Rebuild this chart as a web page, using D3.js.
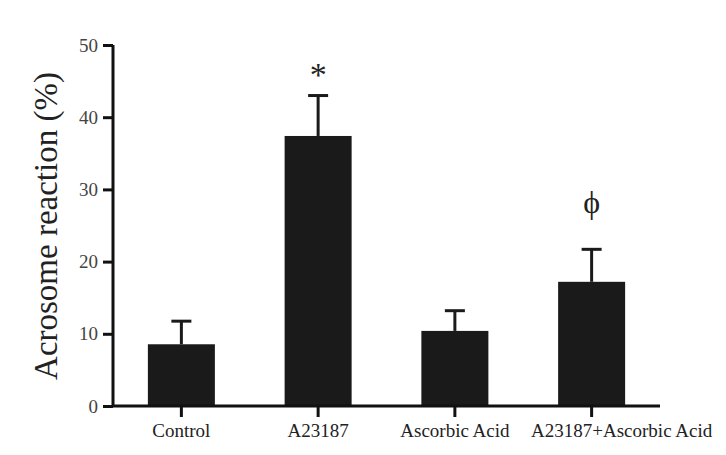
<!DOCTYPE html>
<html>
<head>
<meta charset="utf-8">
<script src="https://cdn.jsdelivr.net/npm/d3@7"></script>
<style>
  body { margin: 0; background: #fff; }
</style>
</head>
<body>
<script>
// datos
var grupos = ["Control", "A23187", "Ascorbic Acid", "A23187+Ascorbic Acid"];
var medias = [8.55, 37.4, 10.4, 17.2];
var errores = [3.2, 5.6, 2.8, 4.5];
var marcas = ["", "*", "", "ϕ"];
var ticksY = [0, 10, 20, 30, 40, 50];

var fuente = "'Liberation Serif', 'Times New Roman', serif";
var w = 726, h = 455;
var margin = { top: 45, bottom: 49, left: 113, right: 66 };

var svg = d3.select("body")
    .append("svg")
    .attr("width", w)
    .attr("height", h);

var x = d3.scaleBand()
    .domain(grupos)
    .range([margin.left, w - margin.right])
    .paddingInner(0.51)
    .paddingOuter(0.255);

var y = d3.scaleLinear()
    .domain([0, 50])
    .range([h - margin.bottom, margin.top]);

// barras
svg.selectAll("rect.barra")
    .data(grupos)
    .enter()
    .append("rect")
    .attr("class", "barra")
    .attr("x", function (d) { return x(d); })
    .attr("width", x.bandwidth())
    .attr("y", function (d, i) { return y(medias[i]); })
    .attr("height", function (d, i) { return y(0) - y(medias[i]); })
    .attr("fill", "#1a1a1a");

// barras de error (solo hacia arriba)
var cx = function (d) { return x(d) + x.bandwidth() / 2; };
svg.selectAll("line.err")
    .data(grupos)
    .enter()
    .append("line")
    .attr("x1", cx).attr("x2", cx)
    .attr("y1", function (d, i) { return y(medias[i]); })
    .attr("y2", function (d, i) { return y(medias[i] + errores[i]); })
    .attr("stroke", "#1a1a1a")
    .attr("stroke-width", 3);

svg.selectAll("line.cap")
    .data(grupos)
    .enter()
    .append("line")
    .attr("x1", function (d) { return cx(d) - 10; })
    .attr("x2", function (d) { return cx(d) + 10; })
    .attr("y1", function (d, i) { return y(medias[i] + errores[i]); })
    .attr("y2", function (d, i) { return y(medias[i] + errores[i]); })
    .attr("stroke", "#1a1a1a")
    .attr("stroke-width", 3);

// marcas de significancia
svg.selectAll("text.marca")
    .data(grupos)
    .enter()
    .append("text")
    .attr("x", cx)
    .attr("y", function (d, i) { return y(medias[i] + errores[i]) - (i == 1 ? 10 : 36); })
    .attr("text-anchor", "middle")
    .style("font-family", fuente)
    .style("font-size", function (d, i) { return i == 1 ? "34px" : "32px"; })
    .attr("fill", "#222")
    .text(function (d, i) { return marcas[i]; });

// ejes
var ejeY = d3.axisLeft(y).tickValues(ticksY).tickSize(10).tickPadding(5);
var gY = svg.append("g")
    .attr("transform", "translate(" + margin.left + ",0)")
    .call(ejeY);

var ejeX = d3.axisBottom(x).tickSize(11).tickPadding(7);
var gX = svg.append("g")
    .attr("transform", "translate(0," + y(0) + ")")
    .call(ejeX);

[gY, gX].forEach(function (g) {
    g.attr("font-family", fuente);
    g.select(".domain").attr("stroke", "#111").attr("stroke-width", 3);
    g.selectAll(".tick line").attr("stroke", "#111").attr("stroke-width", 3);
});
gY.select(".domain").attr("d", "M0," + y(50) + "V" + y(0));
gX.select(".domain").attr("d", "M" + margin.left + ",0H" + (w - margin.right));

gY.selectAll("text")
    .style("font-family", fuente)
    .style("font-size", "19px")
    .attr("fill", "#444");
gX.selectAll("text")
    .style("font-family", fuente)
    .style("font-size", "19px")
    .attr("fill", "#222");
// la ultima etiqueta esta desplazada a la derecha en el original
gX.selectAll(".tick text")
    .attr("dx", function (d, i) { return i == 3 ? 30 : 0; });

// titulo eje Y
svg.append("text")
    .attr("transform", "translate(57," + 226 + ") rotate(-90)")
    .attr("text-anchor", "middle")
    .style("font-family", fuente)
    .style("font-size", "33px")
    .attr("fill", "#222")
    .text("Acrosome reaction (%)");
</script>
</body>
</html>
